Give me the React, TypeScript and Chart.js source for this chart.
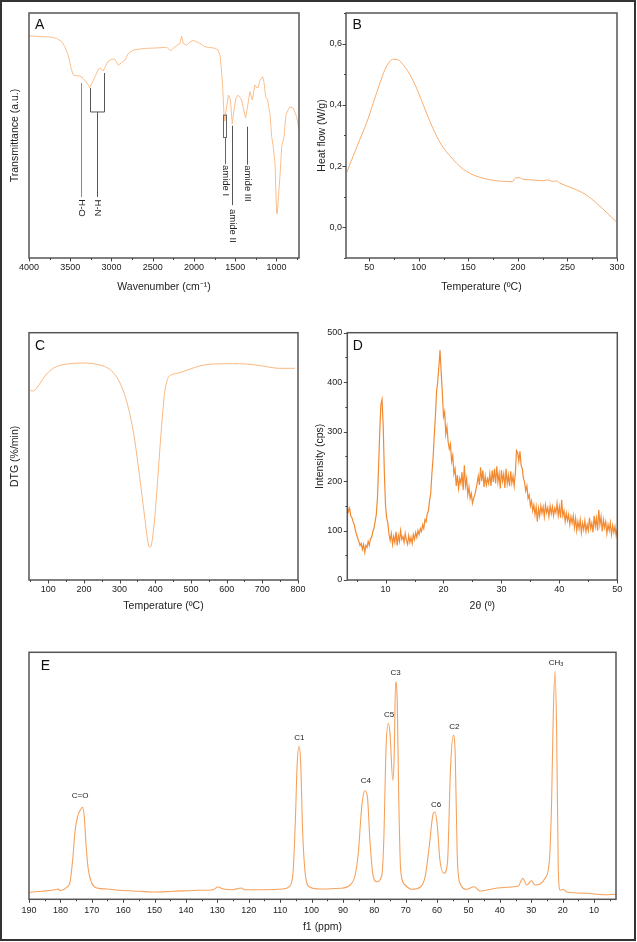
import React, { useEffect, useRef } from 'react';
import { Chart, registerables } from 'chart.js';

Chart.register(...registerables);

const FONT = '"Liberation Sans", Arial, Helvetica, sans-serif';

// ---------- Panel A: FTIR ----------
const ftirWavenumber = [4000,3867,3745,3664,3604,3564,3524,3491,3463,3418,3382,3342,3297,3261,3224,3200,3164,3139,3099,3067,3039,2994,2958,2918,2876,2836,2796,2736,2655,2573,2473,2331,2283,2230,2170,2149,2130,2089,2049,2009,1968,1928,1867,1806,1745,1709,1685,1667,1652,1636,1627,1604,1582,1558,1536,1515,1491,1463,1422,1403,1374,1354,1322,1294,1261,1237,1221,1200,1180,1168,1152,1131,1107,1097,1079,1058,1039,1018,998,991,979,958,937,909,885,860,836,796,755,727];
const ftirTransmittance = [90.7,90.4,90.2,89.6,88.3,86.1,82.8,77.5,74.7,74.3,74.3,73.3,71.4,69.6,72.2,74.0,76.7,77.6,76.4,78.7,80.4,81.2,81.1,78.7,79.8,80.8,83.5,84.9,85.3,85.6,85.7,86.0,84.6,86.2,87.6,90.6,87.6,86.9,88.1,88.9,88.2,87.6,86.2,85.9,85.6,84.9,82.8,76.7,69.9,58.3,55.9,61.7,66.5,64.5,54.7,60.4,65.3,66.5,64.5,61.2,57.1,61.1,67.9,64.5,70.6,69.4,69.6,72.6,73.3,74.0,71.8,65.8,64.5,62.0,59.0,49.5,45.4,38.6,18.2,18.0,23.7,33.2,45.4,49.5,58.3,60.4,61.7,61.1,57.6,52.2];
const ftirTicks = [4000,3500,3000,2500,2000,1500,1000];
const ftirMinor = [3750,3250,2750,2250,1750,1250,750];

// ---------- Panel B: DSC ----------
const dscTemp = [27.0,33.9,40.6,47.4,54.1,60.8,65.8,70.8,74.2,79.2,84.2,91.0,97.7,104.4,111.1,117.9,124.5,131.3,138.0,144.7,151.4,158.2,168.2,178.3,188.4,194.4,197.7,201.8,205.1,215.2,225.2,230.3,234.7,238.7,242.1,248.8,258.9,269.0,279.0,289.1,299.1];
const dscHeatFlow = [0.178,0.234,0.288,0.342,0.407,0.472,0.515,0.542,0.549,0.547,0.531,0.499,0.455,0.401,0.347,0.298,0.261,0.234,0.210,0.190,0.177,0.167,0.158,0.152,0.150,0.149,0.162,0.162,0.157,0.155,0.152,0.155,0.150,0.152,0.145,0.136,0.123,0.106,0.080,0.050,0.019];
const dscXTicks = [50,100,150,200,250,300];
const dscXMinor = [75,125,175,225,275];
const dscYTicks = [0,0.2,0.4,0.6];
const dscYMinor = [-0.1,0.1,0.3,0.5,0.7];

// ---------- Panel C: DTG ----------
const dtgTemp = [46,53.6,62.8,76.8,95.5,114,132.7,160.6,193.3,225.7,253.6,272.3,291,309.5,328.2,342.2,356.1,370.1,379.3,384.1,388.8,398,407.3,416.8,426,435.2,444.7,468,496,523.7,560.9,616.8,654.2,700.6,747.2,791];
const dtgValue = [190.7,189,190,196.7,206,211.7,214.7,216.3,217,216.3,214,210.7,203.3,190,166.7,140,103.3,63.3,38.3,32.7,35,60,103.3,150,186.7,201.7,205,207.3,210.7,214,216,216.3,216,214,211.7,211.7];
const dtgTicks = [100,200,300,400,500,600,700,800];
const dtgMinor = [50,150,250,350,450,550,650,750];

// ---------- Panel D: XRD ----------
const xrdStart = 3.4;
const xrdStep = 0.2;
const xrdIntensity = [
150,138,145,130,126,118,112,100,92,84,78,70,74,62,72,56,70,66,78,70,
84,86,98,104,118,132,165,228,300,355,365,310,215,150,125,115,92,80,94,72,
88,76,98,70,90,78,100,82,88,76,94,80,72,90,76,86,74,92,82,96,
86,100,92,104,98,112,104,122,118,134,140,160,175,215,245,290,330,380,400,430,
465,420,380,330,340,295,310,280,265,275,240,252,215,225,190,212,185,205,195,218,
182,232,190,205,172,188,165,175,155,165,172,182,195,210,192,228,200,222,188,210,
192,205,195,215,190,222,198,225,195,230,198,215,185,222,200,214,186,225,195,212,
190,220,196,210,190,215,262,258,240,260,232,225,205,198,180,190,165,172,150,160,
140,152,132,148,118,145,130,150,135,148,128,152,136,146,128,150,134,148,130,145,
136,155,130,148,126,162,130,140,118,135,120,132,112,128,115,130,106,125,100,118,
104,122,96,115,102,120,98,112,100,126,104,115,96,130,108,125,100,142,112,128,
98,122,106,118,94,112,100,116,92,110,96,108,90,104];
const xrdXTicks = [10,20,30,40,50];
const xrdXMinor = [5,15,25,35,45];
const xrdYTicks = [0,100,200,300,400,500];
const xrdYMinor = [50,150,250,350,450];

// ---------- Panel E: 13C NMR ----------
const nmrPpm = [190.0,186,182.2,180.6,180.1,178.0,176.9,176.1,175.3,174.5,173.7,173.0,172.4,171.8,171.1,170.0,168.4,165.3,161.0,154.7,150.5,144.1,135.6,131.4,129.8,128.2,125.0,122.4,121.3,114.4,109.1,107.0,105.9,105.1,104.6,104.0,103.5,102.8,101.9,100.6,97.4,90.9,87.7,86.1,85.1,84.0,83.0,82.2,81.4,80.5,79.2,77.6,76.9,76.3,75.5,75.0,74.1,73.7,73.2,72.7,72.2,71.6,70.2,68.1,65.4,63.8,62.5,61.2,60.6,59.9,59.1,57.8,56.7,55.7,54.8,54.2,53.6,52.7,50.6,48.2,46.3,42.1,37.8,34.1,32.7,31.4,30.0,28.8,27.2,25.6,24.2,23.5,23.0,22.4,21.9,21.4,20.8,19.8,18.7,12.3,7.0,3.0];
const nmrIntensity = [7,8,9.3,10.3,8.6,12,17.6,39,69,83,89,92,83,53,29.6,16.3,11.3,10.3,9,8,7.3,8,9,9.6,12.3,10.3,9.6,11.3,9.6,9.6,10.3,13,26,83,133,153,140,66,23,12.3,10.3,11,14.3,24.3,46,92.6,108.6,102.6,59.3,26,17.6,24.3,66,149,176,166,119,139,217.6,199,99,29.3,14.3,10,12,22.6,52.6,86,87.3,72.6,39.3,26,36,132.6,164.3,142.6,46,16,10,12.6,8.3,10.6,12,13.3,21,14.3,18.6,14.3,15.3,21,39.3,99.3,182.6,228,166,32.6,9.3,10,7.3,6,4.6,5];
const nmrTicks = [190,180,170,160,150,140,130,120,110,100,90,80,70,60,50,40,30,20,10];
const nmrMinor = [185,175,165,155,145,135,125,115,105,95,85,75,65,55,45,35,25,15,5];
const nmrLabels = ['C=O','C1','C4','C5','C3','C6','C2','CH3'];
const nmrLabelPpm = [173.7,103.9,82.7,75.3,73.2,60.3,54.5,22.1];
const nmrLabelY = [103.6,161.6,118.6,184.3,226.6,95,172.3,237];

// ---------- FTIR band annotations ----------
const ftirBandNames = ['H-O','H-N','amide I','amide II','amide III'];
const ftirBandWn = [3370,3172,1628,1536,1362];
const ftirBandLabelT = [20.4,20.4,31.6,13.1,30.4];

type Extra = (chart: any) => void;

interface PanelProps {
  left: number; top: number; width: number; height: number;
  padTop: number; padRight: number; yWidth: number; xHeight: number;
  xs: number[]; ys: number[]; color: string; lineWidth: number; smooth: boolean;
  xMin: number; xMax: number; reverse?: boolean; yMin: number; yMax: number;
  xMajor: number[]; xMinor: number[]; yMajor?: number[]; yMinor?: number[];
  yFmt?: (v: number) => string; xTitle: string; yTitle?: string;
  xTitlePad: number; yTitlePad: number; xLabelPad: number; yLabelPad: number;
  letter: string; letterDx: number; letterDy: number;
  extra?: Extra;
}

function Panel(p: PanelProps) {
  const ref = useRef<HTMLCanvasElement>(null);
  useEffect(() => {
    if (!ref.current) return;
    const framePlugin = {
      id: 'frame' + p.letter,
      afterDraw(chart: any) {
        const ctx = chart.ctx as CanvasRenderingContext2D;
        const a = chart.chartArea;
        const xs = chart.scales.x;
        const ys = chart.scales.y;
        ctx.save();
        ctx.strokeStyle = '#555';
        ctx.lineWidth = 1.5;
        ctx.strokeRect(a.left, a.top, a.right - a.left, a.bottom - a.top);
        ctx.lineWidth = 1;
        ctx.strokeStyle = '#444';
        const xt = (v: number, len: number) => {
          const px = Math.round(xs.getPixelForValue(v)) + 0.5;
          if (px < a.left - 1 || px > a.right + 1) return;
          ctx.beginPath(); ctx.moveTo(px, a.bottom); ctx.lineTo(px, a.bottom + len); ctx.stroke();
        };
        const yt = (v: number, len: number) => {
          const py = Math.round(ys.getPixelForValue(v)) + 0.5;
          if (py < a.top - 1 || py > a.bottom + 1) return;
          ctx.beginPath(); ctx.moveTo(a.left, py); ctx.lineTo(a.left - len, py); ctx.stroke();
        };
        p.xMajor.forEach(v => xt(v, 3.5));
        p.xMinor.forEach(v => xt(v, 2));
        (p.yMajor || []).forEach(v => yt(v, 3.5));
        (p.yMinor || []).forEach(v => yt(v, 2));
        ctx.fillStyle = '#111';
        ctx.font = `14px ${FONT}`;
        ctx.textAlign = 'left';
        ctx.textBaseline = 'middle';
        ctx.fillText(p.letter, a.left + p.letterDx, a.top + p.letterDy);
        ctx.restore();
        if (p.extra) p.extra(chart);
      },
    };
    const chart = new Chart(ref.current, {
      type: 'line',
      data: {
        datasets: [{
          data: p.xs.map((x, i) => ({ x, y: p.ys[i] })),
          borderColor: p.color,
          borderWidth: p.lineWidth,
          pointRadius: 0,
          fill: false,
          tension: 0,
          cubicInterpolationMode: p.smooth ? 'monotone' : 'default',
        }],
      },
      options: {
        responsive: false,
        maintainAspectRatio: false,
        animation: false,
        devicePixelRatio: 1,
        layout: { padding: { top: p.padTop, right: p.padRight, left: 0, bottom: 0 } },
        plugins: { legend: { display: false }, tooltip: { enabled: false } },
        scales: {
          x: {
            type: 'linear', min: p.xMin, max: p.xMax, reverse: !!p.reverse,
            grid: { display: false, drawTicks: false },
            border: { display: false },
            ticks: {
              autoSkip: false, maxRotation: 0, minRotation: 0, padding: p.xLabelPad,
              color: '#222', font: { family: FONT, size: 9 },
              callback: (v: any) => String(v),
            },
            afterBuildTicks: (s: any) => { s.ticks = p.xMajor.map(v => ({ value: v })); },
            afterFit: (s: any) => { s.height = p.xHeight; },
            title: {
              display: true, text: p.xTitle, color: '#222',
              font: { family: FONT, size: 10.5 },
              padding: { top: 0, bottom: p.xTitlePad },
            },
          },
          y: {
            type: 'linear', min: p.yMin, max: p.yMax,
            grid: { display: false, drawTicks: false },
            border: { display: false },
            ticks: {
              display: !!p.yMajor, autoSkip: false, padding: p.yLabelPad,
              color: '#222', font: { family: FONT, size: 9 },
              callback: (v: any) => (p.yFmt ? p.yFmt(Number(v)) : String(v)),
            },
            afterBuildTicks: (s: any) => { s.ticks = (p.yMajor || []).map(v => ({ value: v })); },
            afterFit: (s: any) => { s.width = p.yWidth; },
            title: {
              display: !!p.yTitle, text: p.yTitle || '', color: '#222',
              font: { family: FONT, size: 10.5 },
              padding: { top: p.yTitlePad, bottom: 0 },
            },
          },
        },
      },
      plugins: [framePlugin],
    } as any);
    return () => chart.destroy();
  }, []);
  return (
    <canvas
      ref={ref}
      width={p.width}
      height={p.height}
      style={{ position: 'absolute', left: p.left, top: p.top, width: p.width, height: p.height }}
    />
  );
}

const drawFtirBands: Extra = (chart) => {
  const ctx = chart.ctx as CanvasRenderingContext2D;
  const xs = chart.scales.x;
  const ys = chart.scales.y;
  const X = (wn: number) => Math.round(xs.getPixelForValue(wn)) + 0.5;
  const Y = (t: number) => ys.getPixelForValue(t);
  const line = (x1: number, y1: number, x2: number, y2: number) => {
    ctx.beginPath(); ctx.moveTo(x1, y1); ctx.lineTo(x2, y2); ctx.stroke();
  };
  ctx.save();
  ctx.lineWidth = 1;
  // H-O
  ctx.strokeStyle = '#8a8a8a';
  line(X(ftirBandWn[0]), Y(71.4), X(ftirBandWn[0]), Y(24.9));
  // H-N bracket
  ctx.strokeStyle = '#555';
  line(X(3261), Y(69.4), X(3261), Y(59.6));
  line(X(3095), Y(75.5), X(3095), Y(59.6));
  line(X(3261), Y(59.6), X(3095), Y(59.6));
  line(X(ftirBandWn[1]), Y(59.6), X(ftirBandWn[1]), Y(24.9));
  // amide I box
  ctx.strokeStyle = '#666';
  ctx.strokeRect(X(1645), Y(58.3), X(1612) - X(1645), Y(49.2) - Y(58.3));
  line(X(ftirBandWn[2]), Y(49.2), X(ftirBandWn[2]), Y(38.3));
  // amide II
  ctx.strokeStyle = '#555';
  line(X(ftirBandWn[3]), Y(54.0), X(ftirBandWn[3]), Y(21.6));
  // amide III
  line(X(ftirBandWn[4]), Y(53.6), X(ftirBandWn[4]), Y(38.1));
  ctx.fillStyle = '#222';
  ctx.font = `9.5px ${FONT}`;
  ctx.textAlign = 'center';
  ctx.textBaseline = 'middle';
  ftirBandNames.forEach((name, i) => {
    ctx.save();
    ctx.translate(X(ftirBandWn[i]), Y(ftirBandLabelT[i]));
    ctx.rotate(Math.PI / 2);
    ctx.fillText(name, 0, 0);
    ctx.restore();
  });
  ctx.restore();
};

const drawNmrLabels: Extra = (chart) => {
  const ctx = chart.ctx as CanvasRenderingContext2D;
  const xs = chart.scales.x;
  const ys = chart.scales.y;
  ctx.save();
  ctx.fillStyle = '#222';
  ctx.textBaseline = 'middle';
  nmrLabels.forEach((name, i) => {
    const x = xs.getPixelForValue(nmrLabelPpm[i]);
    const y = ys.getPixelForValue(nmrLabelY[i]);
    if (name === 'CH3') {
      ctx.font = `8px ${FONT}`;
      const w1 = ctx.measureText('CH').width;
      ctx.font = `5.5px ${FONT}`;
      const w2 = ctx.measureText('3').width;
      const x0 = x - (w1 + w2) / 2;
      ctx.textAlign = 'left';
      ctx.font = `8px ${FONT}`;
      ctx.fillText('CH', x0, y);
      ctx.font = `5.5px ${FONT}`;
      ctx.fillText('3', x0 + w1, y + 2);
    } else {
      ctx.font = `8px ${FONT}`;
      ctx.textAlign = 'center';
      ctx.fillText(name, x, y);
    }
  });
  ctx.restore();
};

const xrdAngles = xrdIntensity.map((_, i) => Number((xrdStart + i * xrdStep).toFixed(2)));

export default function App() {
  return (
    <div style={{ position: 'absolute', left: 0, top: 0, width: 637, height: 942, background: '#fff' }}>
      <Panel
        left={0} top={0} width={310} height={300}
        padTop={13} padRight={11} yWidth={29} xHeight={42}
        xs={ftirWavenumber} ys={ftirTransmittance} color="#fcbf8c" lineWidth={1} smooth={false}
        xMin={727} xMax={4000} reverse yMin={0} yMax={100}
        xMajor={ftirTicks} xMinor={ftirMinor}
        xTitle="Wavenumber (cm⁻¹)" yTitle="Transmittance (a.u.)"
        xTitlePad={6.7} yTitlePad={8.7} xLabelPad={4.5} yLabelPad={3}
        letter="A" letterDx={6} letterDy={12}
        extra={drawFtirBands}
      />
      <Panel
        left={310} top={0} width={327} height={300}
        padTop={13} padRight={20} yWidth={36} xHeight={42}
        xs={dscTemp} ys={dscHeatFlow} color="#f9ad6e" lineWidth={1} smooth
        xMin={26.5} xMax={300} yMin={-0.1} yMax={0.7}
        xMajor={dscXTicks} xMinor={dscXMinor} yMajor={dscYTicks} yMinor={dscYMinor}
        yFmt={(v) => v.toFixed(1).replace('.', ',')}
        xTitle="Temperature (ºC)" yTitle="Heat flow (W/g)"
        xTitlePad={6.7} yTitlePad={5.4} xLabelPad={4.5} yLabelPad={4}
        letter="B" letterDx={6.5} letterDy={12}
      />
      <Panel
        left={0} top={300} width={310} height={315}
        padTop={32.7} padRight={11} yWidth={29} xHeight={35}
        xs={dtgTemp} ys={dtgValue} color="#f9b882" lineWidth={1} smooth
        xMin={46} xMax={800} yMin={0} yMax={247.3}
        xMajor={dtgTicks} xMinor={dtgMinor}
        xTitle="Temperature (ºC)" yTitle="DTG (%/min)"
        xTitlePad={2.2} yTitlePad={8.7} xLabelPad={4.5} yLabelPad={3}
        letter="C" letterDx={6} letterDy={13}
      />
      <Panel
        left={310} top={300} width={327} height={315}
        padTop={32.7} padRight={19.7} yWidth={37.3} xHeight={35}
        xs={xrdAngles} ys={xrdIntensity} color="#f28a32" lineWidth={1.2} smooth={false}
        xMin={3.4} xMax={50} yMin={0} yMax={500}
        xMajor={xrdXTicks} xMinor={xrdXMinor} yMajor={xrdYTicks} yMinor={xrdYMinor}
        xTitle="2θ (º)" yTitle="Intensity (cps)"
        xTitlePad={2.2} yTitlePad={3.7} xLabelPad={4} yLabelPad={5}
        letter="D" letterDx={5.5} letterDy={13}
      />
      <Panel
        left={0} top={615} width={637} height={327}
        padTop={37.3} padRight={21} yWidth={29} xHeight={42.7}
        xs={nmrPpm} ys={nmrIntensity} color="#f6a25c" lineWidth={1.1} smooth
        xMin={3} xMax={190} reverse yMin={0} yMax={247}
        xMajor={nmrTicks} xMinor={nmrMinor}
        xTitle="f1 (ppm)"
        xTitlePad={9} yTitlePad={0} xLabelPad={6} yLabelPad={3}
        letter="E" letterDx={11.7} letterDy={13.7}
        extra={drawNmrLabels}
      />
      <div style={{ position: 'absolute', left: 0, top: 0, width: 636, height: 941, border: '2px solid #333', boxSizing: 'border-box', pointerEvents: 'none' }} />
    </div>
  );
}
